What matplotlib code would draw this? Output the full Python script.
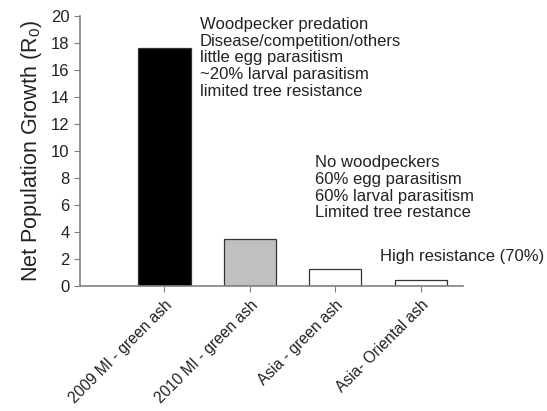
import matplotlib.pyplot as plt

plt.rcParams['font.family'] = ['Liberation Sans', 'DejaVu Sans']

categories = ["2009 MI - green ash", "2010 MI - green ash", "Asia - green ash", "Asia- Oriental ash"]
r0 = [17.6, 3.5, 1.3, 0.45]
colors = ["black", "#c0c0c0", "white", "white"]

note_2009 = "Woodpecker predation\nDisease/competition/others\nlittle egg parasitism\n~20% larval parasitism\nlimited tree resistance"
note_asia = "No woodpeckers\n60% egg parasitism\n60% larval parasitism\nLimited tree restance"
note_oriental = "High resistance (70%)"

fig = plt.figure(figsize=(5.47, 4.11), dpi=100)
ax = fig.add_axes([0.146, 0.304, 0.7, 0.657])

x = list(range(len(categories)))
ax.bar(x, r0, width=0.61, color=colors, edgecolor="#333333", linewidth=0.9)

ax.set_xlim(-0.99, 3.49)
ax.set_ylim(0, 20)
ax.set_yticks(range(0, 21, 2))
ax.set_xticks(x)
ax.set_xticklabels(categories, rotation=45, ha="right", rotation_mode="anchor", fontsize=11.2, color="#222222")
ax.tick_params(axis="y", labelsize=12, labelcolor="#222222", color="#808080", direction="out", length=4)
ax.tick_params(axis="x", color="#808080", direction="out", length=4, pad=4)

for side in ["top", "right"]:
    ax.spines[side].set_visible(False)
for side in ["left", "bottom"]:
    ax.spines[side].set_color("#808080")
    ax.spines[side].set_linewidth(1.2)

ax.set_ylabel("Net Population Growth (R$_\\mathregular{0}$)", fontsize=15.5, color="#222222", labelpad=5)

ax.text(0.415, 19.95, note_2009, fontsize=12, va="top", ha="left", linespacing=1.15, color="#222222")
ax.text(1.76, 9.7, note_asia, fontsize=12, va="top", ha="left", linespacing=1.15, color="#222222")
ax.text(2.52, 2.2, note_oriental, fontsize=12, va="center", ha="left", color="#222222")

fig.savefig("out.png", dpi=100)
